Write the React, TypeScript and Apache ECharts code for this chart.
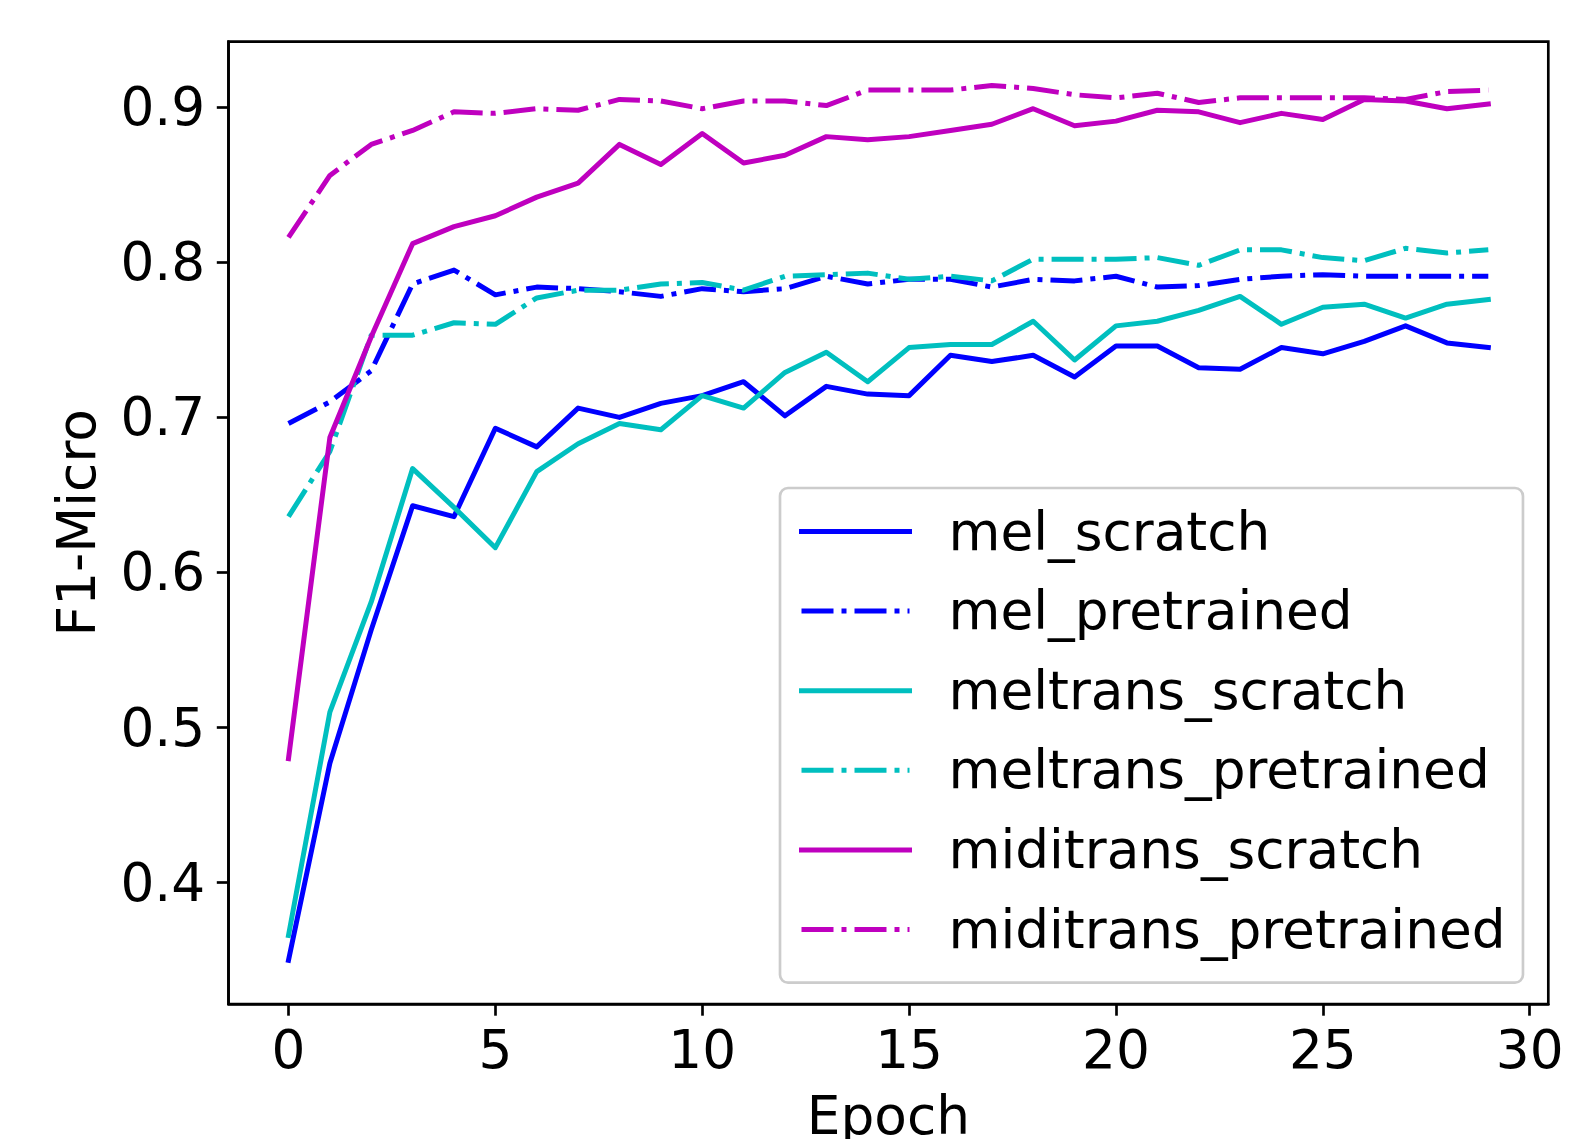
import React, { useEffect, useRef } from "react";
import * as echarts from "echarts";

const epochs = Array.from({ length: 30 }, (_, i) => i);

const melScratch = [0.350, 0.477, 0.563, 0.643, 0.636, 0.693, 0.681, 0.706, 0.700, 0.709, 0.714, 0.723, 0.701, 0.720, 0.715, 0.714, 0.740, 0.736, 0.740, 0.726, 0.746, 0.746, 0.732, 0.731, 0.745, 0.741, 0.749, 0.759, 0.748, 0.745];
const melPretrained = [0.696, 0.710, 0.730, 0.786, 0.795, 0.779, 0.784, 0.783, 0.781, 0.778, 0.783, 0.781, 0.783, 0.791, 0.786, 0.789, 0.789, 0.784, 0.789, 0.788, 0.791, 0.784, 0.785, 0.789, 0.791, 0.792, 0.791, 0.791, 0.791, 0.791];
const meltransScratch = [0.366, 0.510, 0.581, 0.667, 0.642, 0.616, 0.665, 0.683, 0.696, 0.692, 0.714, 0.706, 0.729, 0.742, 0.723, 0.745, 0.747, 0.747, 0.762, 0.737, 0.759, 0.762, 0.769, 0.778, 0.760, 0.771, 0.773, 0.764, 0.773, 0.776];
const meltransPretrained = [0.636, 0.678, 0.753, 0.753, 0.761, 0.760, 0.777, 0.782, 0.782, 0.786, 0.787, 0.782, 0.791, 0.792, 0.793, 0.789, 0.791, 0.788, 0.802, 0.802, 0.802, 0.803, 0.798, 0.808, 0.808, 0.803, 0.801, 0.809, 0.806, 0.808];
const miditransScratch = [0.480, 0.687, 0.752, 0.812, 0.823, 0.830, 0.842, 0.851, 0.876, 0.863, 0.883, 0.864, 0.869, 0.881, 0.879, 0.881, 0.885, 0.889, 0.899, 0.888, 0.891, 0.898, 0.897, 0.890, 0.896, 0.892, 0.905, 0.904, 0.899, 0.902];
const miditransPretrained = [0.816, 0.856, 0.876, 0.885, 0.897, 0.896, 0.899, 0.898, 0.905, 0.904, 0.899, 0.904, 0.904, 0.901, 0.911, 0.911, 0.911, 0.914, 0.912, 0.908, 0.906, 0.909, 0.903, 0.906, 0.906, 0.906, 0.906, 0.905, 0.910, 0.911];

const xTicks = [0, 5, 10, 15, 20, 25, 30];
const yTicks = [0.4, 0.5, 0.6, 0.7, 0.8, 0.9];

const seriesDefs = [
  { name: "mel_scratch", values: melScratch, color: "#0000ff", dashed: false },
  { name: "mel_pretrained", values: melPretrained, color: "#0000ff", dashed: true },
  { name: "meltrans_scratch", values: meltransScratch, color: "#00bfbf", dashed: false },
  { name: "meltrans_pretrained", values: meltransPretrained, color: "#00bfbf", dashed: true },
  { name: "miditrans_scratch", values: miditransScratch, color: "#bf00bf", dashed: false },
  { name: "miditrans_pretrained", values: miditransPretrained, color: "#bf00bf", dashed: true },
];

const FONT = "DejaVu Sans";
const FS = 53.3;
const DASH = [32, 8, 5, 8];

const lineStyleFor = (s: { color: string; dashed: boolean }) => ({
  color: s.color,
  width: 5,
  type: s.dashed ? DASH : "solid",
  cap: s.dashed ? "butt" : "square",
  join: "round",
  opacity: 1,
});

export default function App() {
  const ref = useRef<HTMLDivElement>(null);
  useEffect(() => {
    if (!ref.current) return;
    const chart = echarts.init(ref.current, null, { renderer: "svg" });
    const axisCommon = {
      type: "value",
      nameLocation: "middle",
      nameTextStyle: { fontFamily: FONT, fontSize: FS, color: "#000", lineHeight: 53 },
      axisLine: { show: true, onZero: false, lineStyle: { color: "#000", width: 2.67 } },
      splitLine: { show: false },
    };
    const option: any = {
      animation: false,
      backgroundColor: "#ffffff",
      grid: {
        left: 228.5,
        right: 26.7,
        top: 41.7,
        bottom: 135,
        outerBoundsMode: "none",
        containLabel: false,
        show: true,
        borderColor: "#000000",
        borderWidth: 2.67,
        backgroundColor: "transparent",
      },
      xAxis: {
        ...axisCommon,
        min: -1.45,
        max: 30.45,
        name: "Epoch",
        nameGap: 85,
        axisTick: {
          show: true,
          inside: false,
          length: 11.7,
          lineStyle: { color: "#000", width: 2.67 },
          customValues: xTicks,
        },
        axisLabel: {
          show: true,
          margin: 19.5,
          fontFamily: FONT,
          fontSize: FS,
          color: "#000",
          lineHeight: 53,
          customValues: xTicks,
          formatter: (v: number) => String(Math.round(v)),
        },
      },
      yAxis: {
        ...axisCommon,
        min: 0.3218,
        max: 0.9422,
        name: "F1-Micro",
        nameGap: 125,
        axisTick: {
          show: true,
          inside: false,
          length: 11.7,
          lineStyle: { color: "#000", width: 2.67 },
          customValues: yTicks,
        },
        axisLabel: {
          show: true,
          margin: 23.3,
          fontFamily: FONT,
          fontSize: FS,
          color: "#000",
          lineHeight: 53,
          customValues: yTicks,
          formatter: (v: number) => v.toFixed(1),
        },
      },
      legend: {
        orient: "vertical",
        left: 780,
        top: 488,
        padding: [17, 17.4, 26.7, 19],
        itemWidth: 108,
        itemHeight: 14,
        itemGap: 26.6,
        backgroundColor: "rgba(255,255,255,0.8)",
        borderColor: "#cccccc",
        borderWidth: 2.67,
        borderRadius: 8,
        itemStyle: { opacity: 0, borderWidth: 0 },
        textStyle: {
          fontFamily: FONT,
          fontSize: FS,
          color: "#000",
          lineHeight: 52,
          padding: [0, 0, 0, 34],
        },
        data: seriesDefs.map((s) => ({
          name: s.name,
          itemStyle: { opacity: 0, borderWidth: 0 },
          lineStyle: lineStyleFor(s),
        })),
      },
      series: seriesDefs.map((s) => ({
        name: s.name,
        type: "line",
        data: epochs.map((e, i) => [e, s.values[i]]),
        symbol: "none",
        showSymbol: false,
        color: s.color,
        lineStyle: lineStyleFor(s),
        emphasis: { disabled: true },
      })),
    };
    chart.setOption(option);
    return () => chart.dispose();
  }, []);
  return (
    <div
      ref={ref}
      style={{ position: "absolute", left: 0, top: 0, width: 1575, height: 1139, background: "#fff" }}
    />
  );
}
